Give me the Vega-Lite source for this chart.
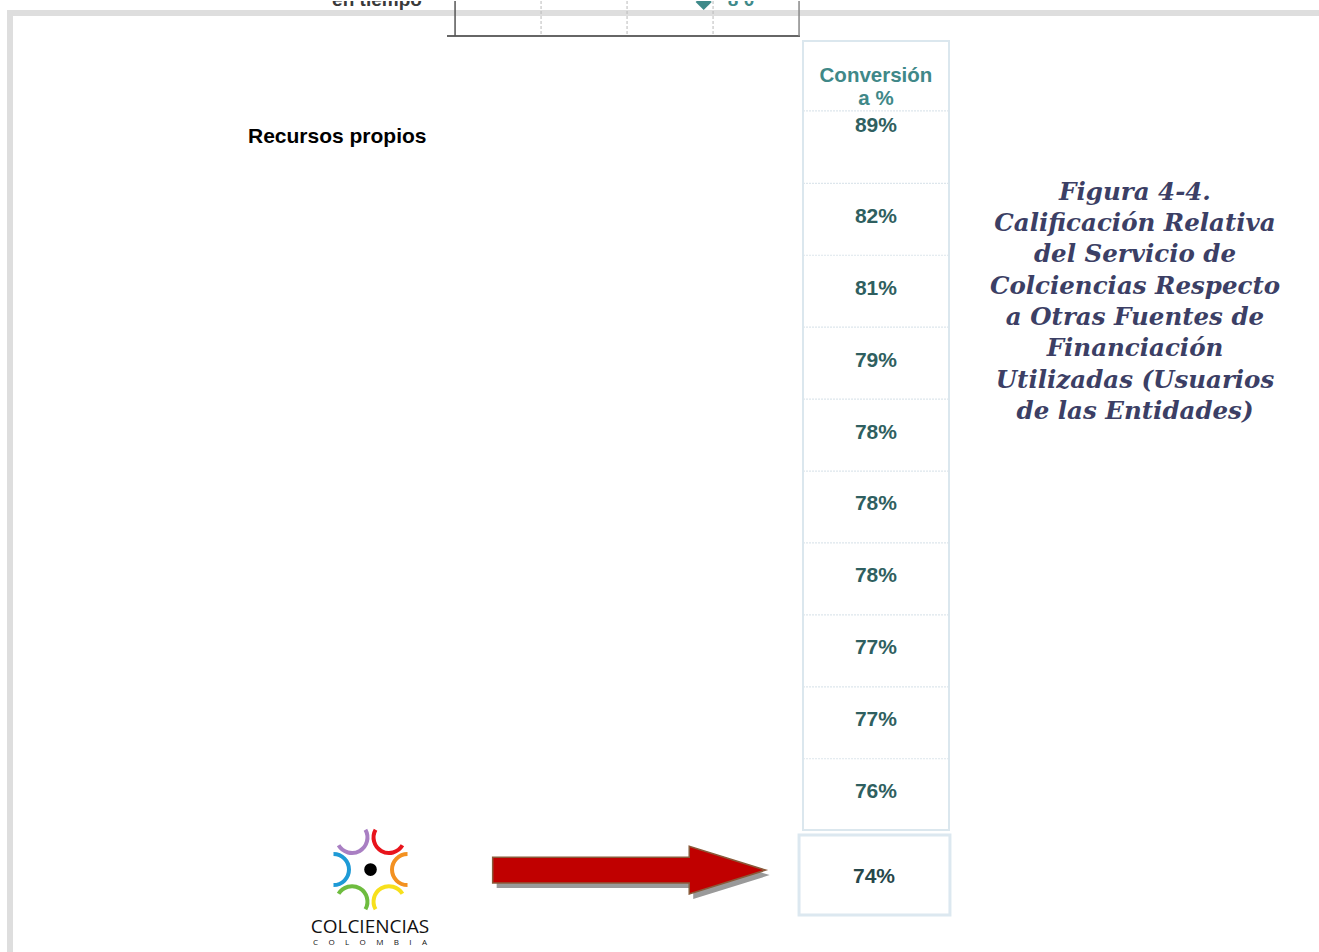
{
  "$schema": "https://vega.github.io/schema/vega-lite/v6.json",
  "width": 1319,
  "height": 952,
  "padding": 0,
  "autosize": {"type": "fit", "contains": "padding"},
  "background": "white",
  "config": {"axis": {"disable": true}, "view": {"stroke": null}},
  "data": {
    "values": [
      {"rank": 1, "fuente": "Recursos propios", "pct": 0.89},
      {"rank": 2, "fuente": "", "pct": 0.82},
      {"rank": 3, "fuente": "", "pct": 0.81},
      {"rank": 4, "fuente": "", "pct": 0.79},
      {"rank": 5, "fuente": "", "pct": 0.78},
      {"rank": 6, "fuente": "", "pct": 0.78},
      {"rank": 7, "fuente": "", "pct": 0.78},
      {"rank": 8, "fuente": "", "pct": 0.77},
      {"rank": 9, "fuente": "", "pct": 0.77},
      {"rank": 10, "fuente": "", "pct": 0.76},
      {"rank": 11, "fuente": "Colciencias", "pct": 0.74}
    ]
  },
  "layer": [
    {
      "data": {"values": [{}]},
      "mark": {"type": "rect", "color": "#dedede"},
      "encoding": {
        "x": {"datum": 0.53, "type": "quantitative", "scale": {"domain": [0, 100], "nice": false, "zero": false}},
        "x2": {"datum": 100},
        "y": {"datum": -0.9097, "type": "quantitative", "scale": {"domain": [-1.03472, 12.1875], "reverse": true, "nice": false, "zero": false}},
        "y2": {"datum": -0.826}
      }
    },
    {
      "data": {"values": [{}]},
      "mark": {"type": "rect", "color": "#dedede"},
      "encoding": {
        "x": {"datum": 0.53, "type": "quantitative"},
        "x2": {"datum": 0.986},
        "y": {"datum": -0.9097, "type": "quantitative"},
        "y2": {"datum": 12.1875}
      }
    },
    {
      "data": {"values": [{}]},
      "mark": {"type": "text", "text": "en tiempo", "font": "Liberation Sans", "fontWeight": "bold", "fontSize": 19, "color": "#3a3a3a", "align": "center", "baseline": "alphabetic", "clip": true},
      "encoding": {
        "x": {"datum": 28.58, "type": "quantitative"},
        "y": {"datum": -0.9653, "type": "quantitative"}
      }
    },
    {
      "data": {"values": [{}]},
      "mark": {"type": "point", "shape": "diamond", "filled": true, "color": "#3f8a8a", "size": 260, "opacity": 1, "clip": true},
      "encoding": {
        "x": {"datum": 53.35, "type": "quantitative"},
        "y": {"datum": -1.02, "type": "quantitative"}
      }
    },
    {
      "data": {"values": [{}]},
      "mark": {"type": "text", "text": "8 0", "font": "Liberation Sans", "fontWeight": "bold", "fontSize": 19, "color": "#3f8a8a", "align": "center", "baseline": "alphabetic", "clip": true},
      "encoding": {
        "x": {"datum": 56.18, "type": "quantitative"},
        "y": {"datum": -0.9653, "type": "quantitative"}
      }
    },
    {
      "data": {"values": [{}]},
      "mark": {"type": "rule", "color": "#666666", "strokeWidth": 2},
      "encoding": {
        "x": {"datum": 33.89, "type": "quantitative"},
        "x2": {"datum": 60.65},
        "y": {"datum": -0.5486, "type": "quantitative"}
      }
    },
    {
      "data": {"values": [{}]},
      "mark": {"type": "rule", "color": "#555555", "strokeWidth": 1.5},
      "encoding": {
        "x": {"datum": 34.5, "type": "quantitative"},
        "y": {"datum": -1.0347, "type": "quantitative"},
        "y2": {"datum": -0.5486}
      }
    },
    {
      "data": {"values": [{}]},
      "mark": {"type": "rule", "color": "#bbbbbb", "strokeWidth": 1, "strokeDash": [3, 2]},
      "encoding": {
        "x": {"datum": 41.02, "type": "quantitative"},
        "y": {"datum": -1.0347, "type": "quantitative"},
        "y2": {"datum": -0.5486}
      }
    },
    {
      "data": {"values": [{}]},
      "mark": {"type": "rule", "color": "#bbbbbb", "strokeWidth": 1, "strokeDash": [3, 2]},
      "encoding": {
        "x": {"datum": 47.54, "type": "quantitative"},
        "y": {"datum": -1.0347, "type": "quantitative"},
        "y2": {"datum": -0.5486}
      }
    },
    {
      "data": {"values": [{}]},
      "mark": {"type": "rule", "color": "#bbbbbb", "strokeWidth": 1, "strokeDash": [3, 2]},
      "encoding": {
        "x": {"datum": 54.06, "type": "quantitative"},
        "y": {"datum": -1.0347, "type": "quantitative"},
        "y2": {"datum": -0.5486}
      }
    },
    {
      "data": {"values": [{}]},
      "mark": {"type": "rule", "color": "#888888", "strokeWidth": 1.5},
      "encoding": {
        "x": {"datum": 60.58, "type": "quantitative"},
        "y": {"datum": -1.0347, "type": "quantitative"},
        "y2": {"datum": -0.5486}
      }
    },
    {
      "data": {"values": [{}]},
      "mark": {"type": "rect", "fill": "white", "stroke": "#dbe7ee", "strokeWidth": 2},
      "encoding": {
        "x": {"datum": 60.88, "type": "quantitative"},
        "x2": {"datum": 71.95},
        "y": {"datum": -0.479, "type": "quantitative"},
        "y2": {"datum": 10.493}
      }
    },
    {
      "transform": [{"filter": "datum.rank <= 9"}],
      "mark": {"type": "rule", "color": "#dde6ec", "strokeWidth": 1.2, "strokeDash": [2, 1], "yOffset": 36},
      "encoding": {
        "x": {"datum": 60.88, "type": "quantitative"},
        "x2": {"datum": 71.95},
        "y": {"field": "rank", "type": "quantitative"}
      }
    },
    {
      "data": {"values": [{}]},
      "mark": {"type": "rule", "color": "#dde6ec", "strokeWidth": 1.2, "strokeDash": [2, 1]},
      "encoding": {
        "x": {"datum": 60.88, "type": "quantitative"},
        "x2": {"datum": 71.95},
        "y": {"datum": 0.493, "type": "quantitative"}
      }
    },
    {
      "data": {"values": [{}]},
      "mark": {"type": "text", "text": ["Conversión", "a %"], "lineHeight": 23, "font": "Liberation Sans", "fontWeight": "bold", "fontSize": 20.5, "color": "#408888", "align": "center", "baseline": "alphabetic"},
      "encoding": {
        "x": {"datum": 66.41, "type": "quantitative"},
        "y": {"datum": 0.085, "type": "quantitative"}
      }
    },
    {
      "transform": [{"filter": "datum.rank == 1"}],
      "mark": {"type": "text", "font": "Liberation Sans", "fontWeight": "bold", "fontSize": 21, "color": "#2f5f60", "align": "center", "baseline": "alphabetic", "dy": -15.5},
      "encoding": {
        "x": {"datum": 66.41, "type": "quantitative"},
        "y": {"field": "rank", "type": "quantitative"},
        "text": {"field": "pct", "type": "quantitative", "format": ".0%"}
      }
    },
    {
      "transform": [{"filter": "datum.rank > 1 && datum.rank < 11"}],
      "mark": {"type": "text", "font": "Liberation Sans", "fontWeight": "bold", "fontSize": 21, "color": "#2f5f60", "align": "center", "baseline": "alphabetic", "dy": 3.5},
      "encoding": {
        "x": {"datum": 66.41, "type": "quantitative"},
        "y": {"field": "rank", "type": "quantitative"},
        "text": {"field": "pct", "type": "quantitative", "format": ".0%"}
      }
    },
    {
      "transform": [{"filter": "datum.rank == 1"}],
      "mark": {"type": "text", "font": "Liberation Sans", "fontWeight": "bold", "fontSize": 21, "color": "#000000", "align": "left", "baseline": "alphabetic", "dy": -4.5},
      "encoding": {
        "x": {"datum": 18.8, "type": "quantitative"},
        "y": {"field": "rank", "type": "quantitative"},
        "text": {"field": "fuente", "type": "nominal"}
      }
    },
    {
      "data": {"values": [{}]},
      "mark": {"type": "rect", "fill": "white", "stroke": "#dce8f0", "strokeWidth": 3},
      "encoding": {
        "x": {"datum": 60.58, "type": "quantitative"},
        "x2": {"datum": 72.02},
        "y": {"datum": 10.5625, "type": "quantitative"},
        "y2": {"datum": 11.6736}
      }
    },
    {
      "transform": [{"filter": "datum.rank == 11"}],
      "mark": {"type": "text", "font": "Liberation Sans", "fontWeight": "bold", "fontSize": 21, "color": "#27474a", "align": "center", "baseline": "alphabetic", "dy": 16.5},
      "encoding": {
        "x": {"datum": 66.26, "type": "quantitative"},
        "y": {"field": "rank", "type": "quantitative"},
        "text": {"field": "pct", "type": "quantitative", "format": ".0%"}
      }
    },
    {
      "data": {"values": [{}]},
      "mark": {"type": "text", "text": ["Figura 4-4.", "Calificación Relativa", "del Servicio de", "Colciencias Respecto", "a Otras Fuentes de", "Financiación", "Utilizadas (Usuarios", "de las Entidades)"], "lineHeight": 31.3, "font": "DejaVu Serif", "fontStyle": "italic", "fontWeight": "bold", "fontSize": 24.5, "color": "#3c3f65", "align": "center", "baseline": "alphabetic"},
      "encoding": {
        "x": {"datum": 86.05, "type": "quantitative"},
        "y": {"datum": 1.7292, "type": "quantitative"}
      }
    },
    {
      "data": {"values": [{}]},
      "mark": {"type": "point", "shape": "M -1 -0.0945 L 0.44 -0.0945 L 0.44 -0.1745 L 1 0 L 0.44 0.1745 L 0.44 0.0945 L -1 0.0945 Z", "size": 74529, "filled": true, "fill": "#9a9a9a", "opacity": 1, "strokeWidth": 0, "xOffset": 4, "yOffset": 5},
      "encoding": {
        "x": {"datum": 47.7, "type": "quantitative"},
        "y": {"datum": 11.049, "type": "quantitative"}
      }
    },
    {
      "data": {"values": [{}]},
      "mark": {"type": "point", "shape": "M -1 -0.0945 L 0.44 -0.0945 L 0.44 -0.1745 L 1 0 L 0.44 0.1745 L 0.44 0.0945 L -1 0.0945 Z", "size": 74529, "filled": true, "fill": "#c00000", "opacity": 1, "stroke": "#8a5a3a", "strokeWidth": 1.5},
      "encoding": {
        "x": {"datum": 47.7, "type": "quantitative"},
        "y": {"datum": 11.049, "type": "quantitative"}
      }
    },
    {
      "data": {"values": [{}]},
      "mark": {"type": "point", "shape": "M 0.866 -0.5 A 1 1 0 0 1 -0.866 0.5", "size": 961, "filled": false, "stroke": "#a97fc3", "strokeWidth": 4, "opacity": 1},
      "encoding": {"x": {"datum": 26.687, "type": "quantitative"}, "y": {"datum": 10.597, "type": "quantitative"}}
    },
    {
      "data": {"values": [{}]},
      "mark": {"type": "point", "shape": "M 0.866 0.5 A 1 1 0 0 1 -0.866 -0.5", "size": 961, "filled": false, "stroke": "#e8141c", "strokeWidth": 4, "opacity": 1},
      "encoding": {"x": {"datum": 29.492, "type": "quantitative"}, "y": {"datum": 10.597, "type": "quantitative"}}
    },
    {
      "data": {"values": [{}]},
      "mark": {"type": "point", "shape": "M 0 1 A 1 1 0 0 1 0 -1", "size": 961, "filled": false, "stroke": "#f39121", "strokeWidth": 4, "opacity": 1},
      "encoding": {"x": {"datum": 30.895, "type": "quantitative"}, "y": {"datum": 11.0417, "type": "quantitative"}}
    },
    {
      "data": {"values": [{}]},
      "mark": {"type": "point", "shape": "M -0.866 0.5 A 1 1 0 0 1 0.866 -0.5", "size": 961, "filled": false, "stroke": "#f7e01c", "strokeWidth": 4, "opacity": 1},
      "encoding": {"x": {"datum": 29.492, "type": "quantitative"}, "y": {"datum": 11.4867, "type": "quantitative"}}
    },
    {
      "data": {"values": [{}]},
      "mark": {"type": "point", "shape": "M -0.866 -0.5 A 1 1 0 0 1 0.866 0.5", "size": 961, "filled": false, "stroke": "#6ebc3f", "strokeWidth": 4, "opacity": 1},
      "encoding": {"x": {"datum": 26.687, "type": "quantitative"}, "y": {"datum": 11.4867, "type": "quantitative"}}
    },
    {
      "data": {"values": [{}]},
      "mark": {"type": "point", "shape": "M 0 -1 A 1 1 0 0 1 0 1", "size": 961, "filled": false, "stroke": "#1e9ad6", "strokeWidth": 4, "opacity": 1},
      "encoding": {"x": {"datum": 25.284, "type": "quantitative"}, "y": {"datum": 11.0417, "type": "quantitative"}}
    },
    {
      "data": {"values": [{}]},
      "mark": {"type": "point", "shape": "circle", "size": 160, "filled": true, "fill": "#000000", "opacity": 1, "strokeWidth": 0},
      "encoding": {"x": {"datum": 28.09, "type": "quantitative"}, "y": {"datum": 11.0417, "type": "quantitative"}}
    },
    {
      "data": {"values": [{}]},
      "mark": {"type": "text", "text": "COLCIENCIAS", "font": "Open Sans", "fontSize": 19, "color": "#111111", "align": "center", "baseline": "alphabetic"},
      "encoding": {"x": {"datum": 28.05, "type": "quantitative"}, "y": {"datum": 11.924, "type": "quantitative"}}
    },
    {
      "data": {"values": [{}]},
      "mark": {"type": "text", "text": "C\u00a0\u00a0\u00a0\u00a0\u00a0O\u00a0\u00a0\u00a0\u00a0\u00a0L\u00a0\u00a0\u00a0\u00a0\u00a0O\u00a0\u00a0\u00a0\u00a0\u00a0M\u00a0\u00a0\u00a0\u00a0\u00a0B\u00a0\u00a0\u00a0\u00a0\u00a0I\u00a0\u00a0\u00a0\u00a0\u00a0A", "font": "Open Sans", "fontSize": 8, "color": "#111111", "align": "center", "baseline": "alphabetic"},
      "encoding": {"x": {"datum": 28.05, "type": "quantitative"}, "y": {"datum": 12.085, "type": "quantitative"}}
    }
  ]
}
